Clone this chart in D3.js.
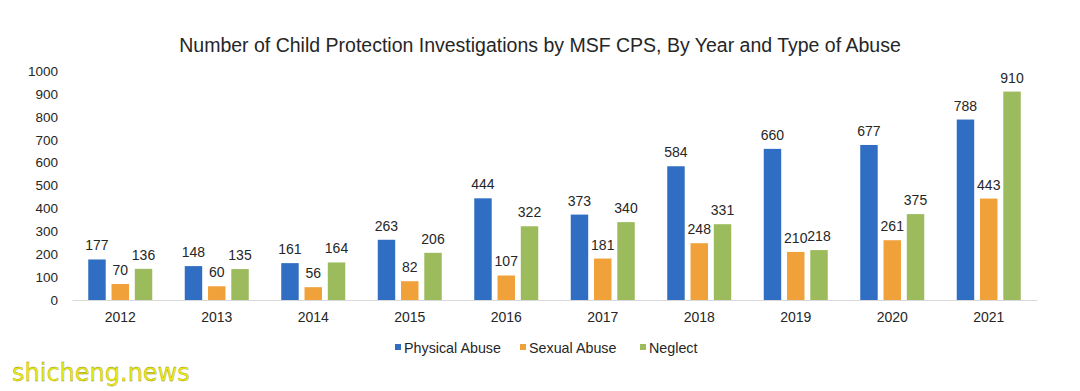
<!DOCTYPE html>
<html><head><meta charset="utf-8">
<script src="https://cdn.jsdelivr.net/npm/d3@7"></script>
<style>html,body{margin:0;padding:0;background:#fff;}svg{display:block;}</style>
</head><body>
<script>
const years = ["2012","2013","2014","2015","2016","2017","2018","2019","2020","2021"];
const seriesNames = ["Physical Abuse","Sexual Abuse","Neglect"];
const physical = [177,148,161,263,444,373,584,660,677,788];
const sexual = [70,60,56,82,107,181,248,210,261,443];
const neglect = [136,135,164,206,322,340,331,218,375,910];
const yTicks = [0,100,200,300,400,500,600,700,800,900,1000];
const colors = ["#2f6ec2","#f0a13a","#9bbb5c"];
const title = "Number of Child Protection Investigations by MSF CPS, By Year and Type of Abuse";

const W=1080,H=391;
const svg=d3.select("body").append("svg").attr("width",W).attr("height",H);
const font="Liberation Sans, Arial, sans-serif";
const x=d3.scaleBand().domain(years).range([72,1037]);
const y=d3.scaleLinear().domain([0,1000]).range([300,71]);
const sx=d3.scaleBand().domain(seriesNames).range([0,64]).paddingInner(0.25);
const groupOff=(x.bandwidth()-64)/2;

svg.append("text").attr("x",540).attr("y",52).attr("text-anchor","middle")
 .attr("font-family",font).attr("font-size",19.5).attr("fill","#262626").text(title);

const yAxis=svg.append("g").attr("transform","translate(72,0)")
 .call(d3.axisLeft(y).tickValues(yTicks).tickFormat(d3.format("d")).tickSize(0).tickPadding(14));
yAxis.select(".domain").remove();
yAxis.selectAll("text").attr("font-family",font).attr("font-size",13.5).attr("fill","#262626");

const xAxis=svg.append("g").attr("transform","translate(0,300)")
 .call(d3.axisBottom(x).tickSize(0).tickPadding(12));
xAxis.select(".domain").attr("stroke","#d9d9d9").attr("stroke-width",1.2);
xAxis.selectAll("text").attr("font-family",font).attr("font-size",14).attr("fill","#262626");

const data=[physical,sexual,neglect];
data.forEach((vals,si)=>{
  const g=svg.append("g");
  g.selectAll("rect").data(vals).join("rect")
   .attr("x",(d,i)=>x(years[i])+groupOff+sx(seriesNames[si]))
   .attr("width",sx.bandwidth())
   .attr("y",d=>y(d)).attr("height",d=>y(0)-y(d))
   .attr("fill",colors[si]);
  g.selectAll("text").data(vals).join("text")
   .attr("x",(d,i)=>x(years[i])+groupOff+sx(seriesNames[si])+sx.bandwidth()/2)
   .attr("y",d=>y(d)-9)
   .attr("text-anchor","middle").attr("font-family",font).attr("font-size",14).attr("fill","#262626")
   .text(d=>d);
});

const legendX=[395,520,640];
const lg=svg.append("g");
seriesNames.forEach((n,i)=>{
  lg.append("rect").attr("x",legendX[i]).attr("y",344).attr("width",6).attr("height",6).attr("fill",colors[i]);
  lg.append("text").attr("x",legendX[i]+9).attr("y",352.5).attr("font-family",font).attr("font-size",14.3)
   .attr("fill","#262626").text(n);
});

svg.append("text").attr("x",12).attr("y",381).attr("font-family","DejaVu Sans, sans-serif")
 .attr("font-size",24).attr("fill","#ecea14").attr("stroke","#8a8a10").attr("stroke-width",0.3)
 .text("shicheng.news");
</script>
</body></html>
